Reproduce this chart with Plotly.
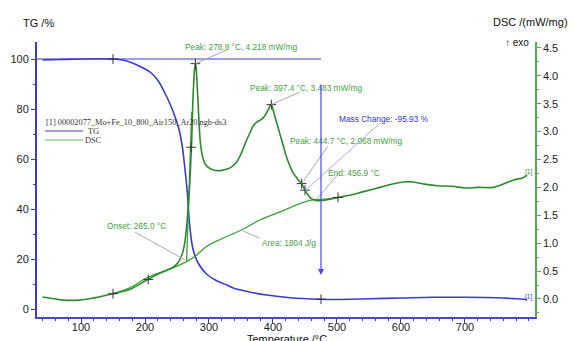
import plotly.graph_objects as go

# ---------------- data ----------------
tg_T = [40, 70, 100, 130, 150, 165, 176, 190, 200, 208, 220, 231, 240, 247, 253, 258,
        262, 266, 270, 275, 283, 296, 312, 328, 338, 360, 390, 427, 475, 500, 550,
        600, 650, 700, 750, 780, 797]
tg_val = [99.6, 99.8, 100.0, 100.1, 100.0, 99.6, 98.8, 97.3, 96.0, 94.8, 91.5, 86.4,
          81.5, 76.8, 72.0, 65.5, 57.0, 47.0, 33.0, 24.0, 18.4, 14.0, 11.3, 9.6, 8.4,
          7.0, 5.6, 4.5, 3.9, 3.8, 4.1, 4.4, 4.7, 4.7, 4.5, 4.1, 3.8]

dsc_T = [40, 55, 72, 98, 120, 150, 176, 203, 223, 244, 252, 258, 262, 265, 268, 270,
         271.5, 273, 274.5, 276, 277.5, 278.8, 280, 281.5, 283, 285, 287, 290, 294,
         300, 307, 314, 322, 333, 343, 350, 357, 364, 370, 376, 382, 387, 392, 395,
         397.4, 401, 406, 411, 416, 421, 427, 432, 437, 441, 444.7, 450, 455, 460,
         466, 473, 485, 501.6, 520, 540, 567, 594, 614, 635, 656, 680, 700, 720, 744,
         760, 775, 790, 797]
dsc_val = [0.035, 0.01, -0.02, -0.02, 0.02, 0.095, 0.17, 0.34, 0.46, 0.57, 0.66, 0.80,
           1.00, 1.30, 1.72, 2.08, 2.45, 2.85, 3.45, 3.85, 4.12, 4.218, 4.12, 3.85,
           3.50, 3.05, 2.75, 2.55, 2.42, 2.35, 2.31, 2.30, 2.31, 2.35, 2.45, 2.60,
           2.80, 2.98, 3.12, 3.18, 3.22, 3.28, 3.38, 3.45, 3.483, 3.35, 3.15, 2.95,
           2.75, 2.55, 2.37, 2.25, 2.17, 2.11, 2.068, 1.95, 1.86, 1.80, 1.77, 1.76,
           1.78, 1.82, 1.86, 1.92, 2.00, 2.08, 2.10, 2.06, 2.03, 2.02, 1.99, 2.00,
           2.00, 2.06, 2.13, 2.17, 2.22]

base_T = [150, 176, 203, 230, 250, 265, 280, 296, 320, 353, 380, 411, 440, 460, 480, 505]
base_val = [0.095, 0.20, 0.38, 0.50, 0.59, 0.67, 0.78, 0.94, 1.08, 1.25, 1.42, 1.56,
            1.70, 1.77, 1.79, 1.82]

onset_T = [265.0, 273.0]
onset_val = [0.68, 3.35]

tg_mark_T = [150, 475]
tg_mark_val = [100.0, 3.9]
dsc_mark_T = [150, 205, 272, 278.8, 397.4, 444.7, 450, 501.6]
dsc_mark_val = [0.095, 0.35, 2.72, 4.218, 3.483, 2.068, 1.95, 1.82]

mass_T = 475
mass_from, mass_to = 90.4, 13.6

x_ticks = [100, 200, 300, 400, 500, 600, 700]
tg_ticks = [0, 20, 40, 60, 80, 100]
dsc_ticks = [0.0, 0.5, 1.0, 1.5, 2.0, 2.5, 3.0, 3.5, 4.0, 4.5]

# ---------------- style ----------------
BLUE = "#3b3bd0"
GREEN = "#2b8a2b"
LGREEN = "#3f9f3f"
GRAY = "#aaaaaa"
FONT = "Liberation Sans, Arial, sans-serif"
SERIF = "Liberation Serif, Times New Roman, serif"

W, H = 571, 341
L, R, T, B = 37, 36, 42, 24
pw, ph = W - L - R, H - T - B


def px(x):
    return (x - L) / pw


def py(y):
    return (H - B - y) / ph


fig = go.Figure()

fig.add_trace(go.Scatter(x=[31.25, mass_T], y=[100, 100], mode="lines",
                         line=dict(color=BLUE, width=1.2), yaxis="y", hoverinfo="skip"))
fig.add_trace(go.Scatter(x=tg_T, y=tg_val, mode="lines", line=dict(color=BLUE, width=1.6),
                         line_shape="spline", yaxis="y", name="TG"))
fig.add_trace(go.Scatter(x=base_T, y=base_val, mode="lines", line=dict(color=LGREEN, width=1.3),
                         line_shape="spline", yaxis="y2"))
fig.add_trace(go.Scatter(x=onset_T, y=onset_val, mode="lines", line=dict(color=LGREEN, width=1.3),
                         yaxis="y2"))
fig.add_trace(go.Scatter(x=dsc_T, y=dsc_val, mode="lines", line=dict(color=GREEN, width=1.6),
                         line_shape="spline", yaxis="y2", name="DSC"))
fig.add_trace(go.Scatter(x=tg_mark_T, y=tg_mark_val, mode="markers", yaxis="y",
                         marker=dict(symbol="cross-thin", size=7, line=dict(color="#333", width=1))))
fig.add_trace(go.Scatter(x=dsc_mark_T, y=dsc_mark_val, mode="markers", yaxis="y2",
                         marker=dict(symbol="cross-thin", size=7, line=dict(color="#333", width=1))))

# pointer lines (data coordinates of DSC axis)
pointers = [
    ((278.8, 4.218), (327.0, 4.46), GRAY),
    ((397.4, 3.483), (442.0, 3.71), GRAY),
    ((444.7, 2.068), (486.0, 2.74), GRAY),
    ((449.0, 1.93), (567.0, 3.15), "#a8a8ee"),
    ((469.0, 1.80), (505.0, 2.28), GRAY),
    ((262.5, 0.70), (184.0, 1.20), GRAY),
    ((353.0, 1.22), (379.0, 1.09), GRAY),
]
shapes = []
for (x0, y0), (x1, y1), c in pointers:
    shapes.append(dict(type="line", xref="x", yref="y2", x0=x0, y0=y0, x1=x1, y1=y1,
                       line=dict(color=c, width=1)))
# legend lines
shapes.append(dict(type="line", xref="paper", yref="paper", x0=px(45), x1=px(83),
                   y0=py(131), y1=py(131), line=dict(color=BLUE, width=1.2)))
shapes.append(dict(type="line", xref="paper", yref="paper", x0=px(45), x1=px(83),
                   y0=py(140), y1=py(140), line=dict(color="#66b866", width=1.2)))

ann = []
labels = [
    ("Peak: 278.8 °C, 4.218 mW/mg", 259.4, 4.516, LGREEN),
    ("Peak: 397.4 °C, 3.483 mW/mg", 361.0, 3.78, LGREEN),
    ("Mass Change: -95.93 %", 500.0, 3.226, "#3535d8"),
    ("Peak: 444.7 °C, 2.068 mW/mg", 423.4, 2.83, LGREEN),
    ("End: 456.9 °C", 482.8, 2.258, LGREEN),
    ("Onset: 265.0 °C", 137.5, 1.308, LGREEN),
    ("Area: 1804 J/g", 379.7, 1.00, LGREEN),
]
for txt, x, y, c in labels:
    ann.append(dict(text=txt, x=x, y=y, xref="x", yref="y2", xanchor="left", yanchor="middle",
                    showarrow=False, font=dict(family=FONT, size=8.3, color=c)))

ann.append(dict(text="[1]", x=800, y=2.276, xref="x", yref="y2", showarrow=False,
                font=dict(family=FONT, size=6.5, color=GREEN)))
ann.append(dict(text="[1]", x=800, y=0.04, xref="x", yref="y2", showarrow=False,
                font=dict(family=FONT, size=6.5, color=BLUE)))

# mass change arrow
ann.append(dict(x=mass_T, y=mass_to, xref="x", yref="y", ax=mass_T, ay=mass_from,
                axref="x", ayref="y", text="", showarrow=True, arrowhead=2, arrowsize=1,
                arrowwidth=1.2, arrowcolor="#4a4ae0"))

# titles
ann.append(dict(text="TG /%", x=px(21), y=py(23), xref="paper", yref="paper", xanchor="left",
                yanchor="middle", showarrow=False, font=dict(family=FONT, size=11, color="#111")))
ann.append(dict(text="DSC /(mW/mg)", x=px(570), y=py(22), xref="paper", yref="paper",
                xanchor="right", yanchor="middle", showarrow=False,
                font=dict(family=FONT, size=11, color="#111")))
ann.append(dict(text="↑ exo", x=px(531), y=py(42), xref="paper", yref="paper",
                xanchor="right", yanchor="middle", showarrow=False,
                font=dict(family=FONT, size=10, color="#111")))
ann.append(dict(text="Temperature /°C", x=px(287), y=py(339), xref="paper", yref="paper",
                xanchor="center", yanchor="middle", showarrow=False,
                font=dict(family=FONT, size=11, color="#111")))
# legend text
ann.append(dict(text="[1] 00002077_Mo+Fe_10_800_Air150_Ar20.ngb-ds3", x=px(44), y=py(122),
                xref="paper", yref="paper", xanchor="left", yanchor="middle", showarrow=False,
                font=dict(family=SERIF, size=8.3, color="#333333")))
ann.append(dict(text="TG", x=px(86), y=py(131), xref="paper", yref="paper", xanchor="left",
                yanchor="middle", showarrow=False, font=dict(family=SERIF, size=8.3, color="#333333")))
ann.append(dict(text="DSC", x=px(83), y=py(140), xref="paper", yref="paper", xanchor="left",
                yanchor="middle", showarrow=False, font=dict(family=SERIF, size=8.3, color="#333333")))

tickfont = dict(family=FONT, size=11, color="#222")
fig.update_layout(
    width=W, height=H, margin=dict(l=L, r=R, t=T, b=B, autoexpand=False),
    paper_bgcolor="white", plot_bgcolor="white", showlegend=False,
    xaxis=dict(range=[31.25, 809.4], tickvals=x_ticks, ticks="outside", ticklen=4,
               tickcolor="#444", showline=True, linecolor="#4646c8", linewidth=1.5,
               showgrid=False, zeroline=False, tickfont=tickfont, ticklabelstandoff=-5,
               minor=dict(dtick=20, tick0=0, ticks="outside", ticklen=2, tickcolor="#444")),
    yaxis=dict(range=[-3.2, 106.8], tickvals=tg_ticks, ticks="outside", ticklen=4,
               tickcolor=BLUE, showline=True, linecolor=BLUE, linewidth=2,
               showgrid=False, zeroline=False, tickfont=tickfont,
               minor=dict(dtick=10, tick0=0, ticks="outside", ticklen=2, tickcolor=BLUE)),
    yaxis2=dict(range=[-0.323, 4.606], tickvals=dsc_ticks, tickformat=".1f", ticks="outside",
                ticklen=4, tickcolor="#55aa55", showline=True, linecolor="#55aa55", linewidth=1.5,
                showgrid=False, zeroline=False, tickfont=tickfont, overlaying="y", side="right",
                minor=dict(dtick=0.25, tick0=0, ticks="outside", ticklen=2, tickcolor="#55aa55")),
    annotations=ann, shapes=shapes,
)

fig.write_html("out.html", config={"displayModeBar": False},
               post_script="document.body.style.margin='0';")
